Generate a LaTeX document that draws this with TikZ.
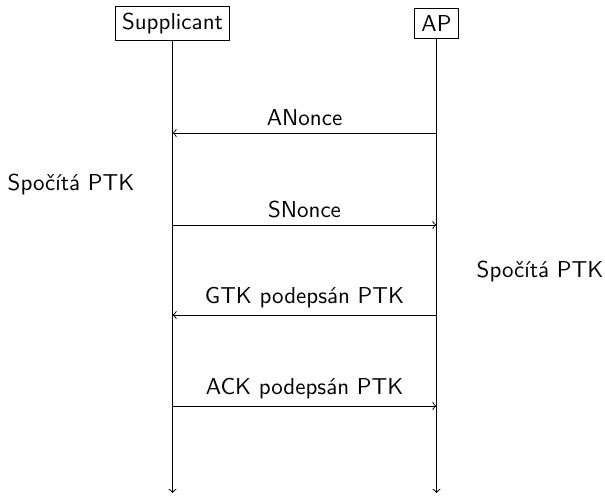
\documentclass[tikz,border=0pt]{standalone}
\begin{document}
\begin{tikzpicture}[x=0.4348pt,y=-0.4348pt,font=\sffamily,
  actor/.style={draw,inner sep=3pt},
  life/.style={->},
  msg/.style={->},
  lbl/.style={above,inner sep=3pt}]
\useasboundingbox (0,0) rectangle (605,497);
\node[actor] (sup) at (172.5,23.5) {Supplicant};
\node[actor] (ap) at (436.5,23.5) {AP};
\coordinate (supend) at (173,493);
\coordinate (apend) at (436,493);
\draw[life] (sup) -- (sup |- supend);
\draw[life] (ap) -- (ap |- apend);
\coordinate (s1) at (sup |- 0,133); \coordinate (a1) at (ap |- 0,133);
\coordinate (s2) at (sup |- 0,225); \coordinate (a2) at (ap |- 0,225);
\coordinate (s3) at (sup |- 0,315); \coordinate (a3) at (ap |- 0,315);
\coordinate (s4) at (sup |- 0,406); \coordinate (a4) at (ap |- 0,406);
\draw[msg] (a1) -- node[lbl] (m1) {ANonce} (s1);
\draw[msg] (s2) -- node[lbl] (m2) {SNonce} (a2);
\draw[msg] (a3) -- node[lbl] (m3) {GTK podepsán PTK} (s3);
\draw[msg] (s4) -- node[lbl] (m4) {ACK podepsán PTK} (a4);
\node (c1) at (71,184) {Spočítá PTK};
\node (c2) at (540,271) {Spočítá PTK};
\end{tikzpicture}
\end{document}
